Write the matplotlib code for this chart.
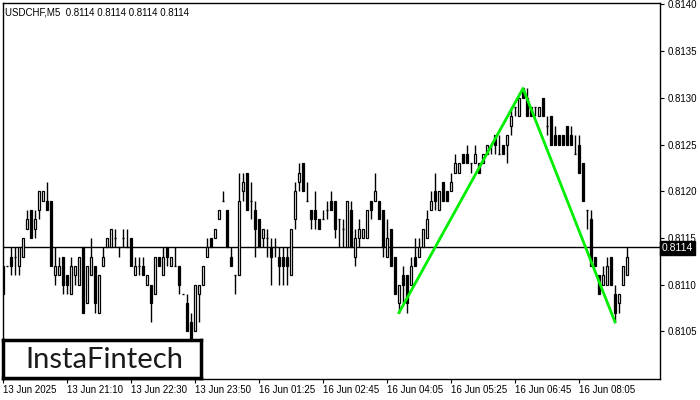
import matplotlib
matplotlib.use('Agg')
import matplotlib.pyplot as plt
from matplotlib.patches import Rectangle

plt.rcParams['font.family'] = ['Liberation Sans', 'DejaVu Sans']

# USDCHF M5 candles, values in pips above 0.8100
BASE = 0.8100
opens = [12, 12, 13, 13, 12, 13, 16, 18, 16, 18, 19, 19, 19, 11, 11, 13, 11, 9, 11, 10,
         14, 8, 11, 12, 7, 12, 14, 14, 15, 14, 15, 14, 15, 11, 12, 12, 10, 10, 9, 13,
         11, 14, 12, 12, 12, 9, 8, 6, 5, 9, 10, 13, 15, 15, 17, 19, 18, 13, 11, 11,
         20, 22, 19, 18, 17, 15, 15, 14, 14, 13, 13, 13, 11, 17, 21, 23, 19, 18, 18, 17,
         17, 18, 19, 19, 17, 16, 14, 18, 13, 15, 15, 15, 19, 19, 19, 18, 13, 16, 13, 8,
         11, 11, 10, 13, 13, 14, 15, 18, 20, 18, 21, 20, 20, 22, 22, 24, 24, 23, 23, 23,
         23, 24, 25, 26, 24, 25, 25, 27, 29, 28, 31, 30, 29, 29, 28, 30, 27, 28, 26, 26,
         26, 27, 26, 24, 25, 23, 18, 17, 13, 11, 10, 10, 13, 9, 8, 10, 11]
highs = [12, 12, 14, 14, 14, 15, 18, 18, 18, 20, 20, 21, 19, 14, 13, 13, 11, 13, 12, 13,
         14, 12, 15, 12, 11, 14, 15, 16, 16, 14, 16, 16, 15, 13, 13, 13, 11, 10, 13, 13,
         14, 14, 13, 14, 12, 9, 9, 7, 10, 10, 12, 15, 15, 16, 18, 20, 18, 14, 11, 22,
         22, 22, 21, 19, 17, 16, 16, 15, 15, 14, 14, 14, 16, 21, 23, 23, 21, 18, 20, 17,
         18, 19, 20, 19, 17, 17, 19, 19, 16, 17, 16, 18, 19, 22, 19, 18, 17, 16, 13, 10,
         12, 11, 13, 15, 15, 16, 18, 20, 22, 20, 21, 20, 22, 24, 23, 24, 25, 23, 25, 23,
         24, 25, 25, 26, 26, 25, 26, 29, 29, 30, 31, 31, 29, 29, 29, 30, 28, 28, 27, 26,
         26, 27, 27, 26, 26, 23, 18, 18, 13, 11, 12, 13, 13, 10, 9, 12, 14]
lows = [9, 12, 11, 11, 11, 13, 16, 15, 15, 17, 19, 18, 12, 10, 11, 9, 9, 9, 10, 10,
        7, 8, 11, 7, 7, 12, 14, 14, 14, 13, 14, 14, 12, 11, 11, 11, 10, 6, 9, 12,
        11, 12, 12, 12, 9, 9, 5, 4, 5, 6, 10, 13, 14, 15, 17, 19, 14, 12, 9, 11,
        19, 18, 17, 13, 14, 14, 13, 10, 13, 10, 10, 10, 11, 16, 20, 20, 19, 16, 16, 16,
        17, 17, 18, 15, 14, 14, 14, 14, 12, 14, 15, 15, 17, 19, 17, 13, 13, 12, 9, 7,
        8, 7, 10, 12, 13, 14, 15, 18, 18, 18, 19, 19, 20, 22, 22, 23, 23, 22, 23, 22,
        23, 24, 24, 24, 24, 24, 23, 26, 28, 28, 30, 28, 28, 28, 28, 28, 26, 25, 25, 25,
        25, 25, 25, 24, 22, 19, 16, 12, 12, 9, 10, 10, 10, 6, 7, 10, 11]
closes = [9, 12, 12, 13, 14, 15, 17, 15, 17, 20, 20, 18, 12, 12, 12, 10, 10, 12, 12, 13,
          7, 12, 13, 8, 11, 13, 15, 16, 15, 14, 15, 14, 12, 12, 12, 11, 11, 8, 13, 12,
          13, 13, 13, 12, 10, 9, 5, 4, 10, 10, 12, 14, 14, 16, 18, 19, 14, 12, 11, 19,
          21, 18, 19, 16, 14, 16, 15, 13, 14, 12, 12, 12, 16, 20, 22, 20, 19, 17, 17, 16,
          17, 18, 18, 16, 17, 16, 19, 14, 15, 16, 16, 18, 18, 20, 17, 14, 15, 12, 9, 10,
          10, 8, 12, 12, 14, 16, 17, 19, 19, 20, 19, 19, 21, 23, 23, 23, 23, 23, 24, 22,
          24, 25, 25, 25, 24, 24, 26, 28, 29, 30, 30, 28, 28, 29, 29, 28, 27, 25, 25, 25,
          25, 25, 25, 24, 22, 19, 18, 12, 12, 9, 11, 12, 10, 7, 9, 12, 13]

# pattern lines (bar index, price in pips)
pattern_bars = [99, 130, 153]
pattern_pips = [7, 31, 6]

current_pips = 14
x_tick_bars = [0, 16, 32, 48, 64, 80, 96, 112, 128, 144]
x_tick_labels = ['13 Jun 2025', '13 Jun 21:10', '13 Jun 22:30', '13 Jun 23:50',
                 '16 Jun 01:25', '16 Jun 02:45', '16 Jun 04:05', '16 Jun 05:25',
                 '16 Jun 06:45', '16 Jun 08:05']
y_ticks = [0.8105, 0.8110, 0.8115, 0.8120, 0.8125, 0.8130, 0.8135, 0.8140]


def px(p):
    return BASE + p / 10000.0


fig = plt.figure(figsize=(7, 4), dpi=100)
ax = fig.add_axes([2.5 / 700, 21 / 400, 657.5 / 700, 376.5 / 400])

body_w = 0.62
for i in range(len(opens)):
    o, h, l, c = px(opens[i]), px(highs[i]), px(lows[i]), px(closes[i])
    ax.vlines(i, l, h, color='black', linewidth=1.0, zorder=2)
    if opens[i] == closes[i]:
        ax.hlines(o, i - body_w / 2, i + body_w / 2, color='black', linewidth=1.0, zorder=3)
    else:
        bottom = min(o, c)
        height = abs(c - o)
        face = 'white' if c > o else 'black'
        ax.add_patch(Rectangle((i - body_w / 2, bottom), body_w, height,
                               facecolor=face, edgecolor='black', linewidth=0.9, zorder=3))

# green pattern
ax.plot(pattern_bars, [px(p) for p in pattern_pips], color='#00ee00', linewidth=2, zorder=4)

# current price line
ax.axhline(px(current_pips), color='black', linewidth=1.0, zorder=1)

ax.set_xlim(-0.125, 164.25)
ax.set_ylim(0.80999, 0.81402)

ax.yaxis.tick_right()
ax.set_yticks(y_ticks)
ax.set_yticklabels(['%.4f' % v for v in y_ticks])
ax.tick_params(axis='y', direction='out', length=3, width=0.8, labelsize=7, pad=2.5)
ax.set_xticks(x_tick_bars)
ax.set_xticklabels(x_tick_labels, ha='left')
ax.tick_params(axis='x', direction='out', length=3, width=0.8, labelsize=7, pad=1)
for sp in ax.spines.values():
    sp.set_linewidth(1.0)

# current price label (covers the 0.8115 tick label partly, as in the terminal)
ax.text(1.003, px(current_pips) - 0.000005, '%.4f' % px(current_pips),
        transform=ax.get_yaxis_transform(), va='center', ha='left', fontsize=7.5,
        color='white', zorder=10, clip_on=False,
        bbox=dict(boxstyle='square,pad=0.2', facecolor='black', edgecolor='black'))

# header
ax.text(0.004, 0.987, 'USDCHF,M5  0.8114 0.8114 0.8114 0.8114', transform=ax.transAxes,
        va='top', ha='left', fontsize=7)

# logo
logo = fig.add_axes([3 / 700, 22 / 400, 198 / 700, 38 / 400])
logo.set_xticks([])
logo.set_yticks([])
for sp in logo.spines.values():
    sp.set_linewidth(2.5)
logo.text(0.51, 0.47, 'InstaFintech', ha='center', va='center', fontsize=21,
          family='Lato', color='#1a1a1a', transform=logo.transAxes)

fig.savefig('out.png', dpi=100)
